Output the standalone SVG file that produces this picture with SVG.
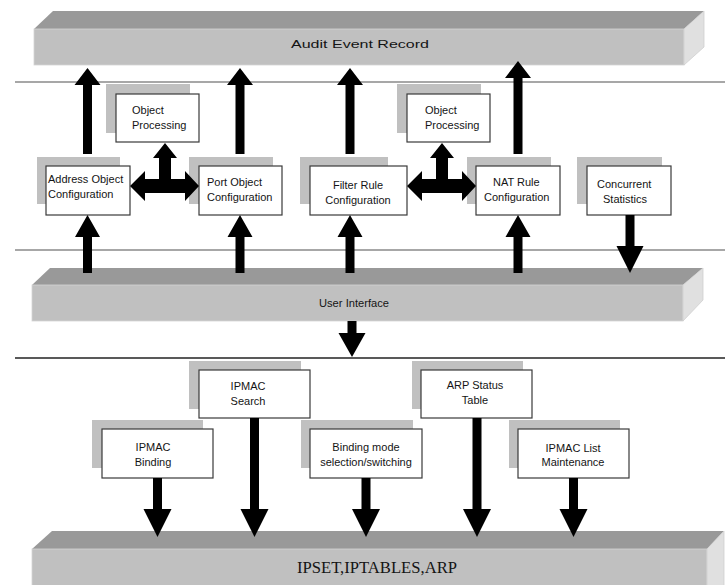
<svg xmlns="http://www.w3.org/2000/svg" width="725" height="585" viewBox="0 0 725 585">
<defs>
<style>
.top{fill:#999999}
.front{fill:#c0c0c0;stroke:#d4d4d4;stroke-width:0.8}
.side{fill:#e0e0e0;stroke:#cfcfcf;stroke-width:0.8}
.shadow{fill:#c0c0c0}
.box{fill:#ffffff;stroke:#3a3a3a;stroke-width:1.2}
.t{font-family:"Liberation Sans",Arial,sans-serif;font-size:11px;fill:#141414}
.tc{text-anchor:middle}
.arr{fill:#000000}
.sep{stroke:#8a8a8a;stroke-width:1.5}
.sepd{stroke:#222222;stroke-width:1.5}
</style>
</defs>
<rect width="725" height="585" fill="#ffffff"/>

<!-- separator lines -->
<g id="separators">
<line class="sep" x1="15" y1="82" x2="725" y2="82"/>
<line class="sep" x1="15" y1="250" x2="725" y2="250"/>
<line class="sepd" x1="15" y1="358" x2="725" y2="358"/>
</g>

<!-- Audit Event Record bar -->
<g id="audit">
<polygon class="top" points="34,29 53,11 704,11 684,29"/>
<rect class="front" x="34" y="29" width="650" height="36"/>
<polygon class="side" points="684,29 704,11 704,47 684,65"/>
<text class="t tc" x="360" y="48" font-size="16" textLength="138" lengthAdjust="spacingAndGlyphs">Audit Event Record</text>
</g>

<!-- User Interface bar -->
<g id="ui">
<polygon class="top" points="32,285 50,268 703,268 683,285"/>
<rect class="front" x="32" y="285" width="651" height="36"/>
<polygon class="side" points="683,285 703,268 703,300 683,321"/>
<text class="t tc" x="354" y="307" font-size="10.5" textLength="70" lengthAdjust="spacingAndGlyphs">User Interface</text>
</g>

<!-- IPSET bar -->
<g id="ipset">
<polygon class="top" points="32,549 52,531 724,531 707,549"/>
<rect class="front" x="32" y="549" width="675" height="40"/>
<polygon class="side" points="707,549 724,531 724,590 707,590"/>
<text x="377" y="573" text-anchor="middle" font-family="'Liberation Serif','Times New Roman',serif" font-size="16.5" fill="#141414" textLength="160" lengthAdjust="spacingAndGlyphs">IPSET,IPTABLES,ARP</text>
</g>

<!-- upper nodes -->
<g id="objproc1">
<rect class="shadow" x="106" y="84" width="84" height="49"/>
<rect class="box" x="116" y="94" width="83" height="48"/>
<text class="t" x="132" y="114" font-size="10.5">Object</text>
<text class="t" x="132" y="129" font-size="10.5">Processing</text>
</g>
<g id="addrobj">
<rect class="shadow" x="37" y="157" width="83" height="47"/>
<rect class="box" x="46" y="166" width="84" height="49"/>
<text class="t" x="48" y="183">Address Object</text>
<text class="t" x="48" y="198">Configuration</text>
</g>
<g id="portobj">
<rect class="shadow" x="189" y="157" width="84" height="47"/>
<rect class="box" x="199" y="166" width="83" height="49"/>
<text class="t" x="207" y="186">Port Object</text>
<text class="t" x="207" y="201">Configuration</text>
</g>
<g id="filter">
<rect class="shadow" x="300" y="157" width="88" height="47"/>
<rect class="box" x="310" y="166" width="97" height="49"/>
<text class="t tc" x="358" y="189">Filter Rule</text>
<text class="t tc" x="358" y="204">Configuration</text>
</g>
<g id="objproc2">
<rect class="shadow" x="397" y="84" width="84" height="49"/>
<rect class="box" x="407" y="94" width="83" height="48"/>
<text class="t" x="425" y="114" font-size="10.5">Object</text>
<text class="t" x="425" y="129" font-size="10.5">Processing</text>
</g>
<g id="nat">
<rect class="shadow" x="467" y="157" width="84" height="47"/>
<rect class="box" x="476" y="166" width="84" height="49"/>
<text class="t" x="493" y="186">NAT Rule</text>
<text class="t" x="484" y="201">Configuration</text>
</g>
<g id="concurrent">
<rect class="shadow" x="577" y="157" width="85" height="47"/>
<rect class="box" x="587" y="166" width="84" height="49"/>
<text class="t" x="597" y="188">Concurrent</text>
<text class="t" x="603" y="203">Statistics</text>
</g>

<!-- lower nodes -->
<g id="search">
<rect class="shadow" x="189" y="361" width="112" height="48"/>
<rect class="box" x="199" y="370" width="111" height="48"/>
<text class="t tc" x="248" y="390">IPMAC</text>
<text class="t tc" x="248" y="405">Search</text>
</g>
<g id="arp">
<rect class="shadow" x="412" y="361" width="111" height="48"/>
<rect class="box" x="421" y="370" width="111" height="48"/>
<text class="t tc" x="475" y="389">ARP Status</text>
<text class="t tc" x="475" y="404">Table</text>
</g>
<g id="binding">
<rect class="shadow" x="92" y="420" width="111" height="48"/>
<rect class="box" x="102" y="429" width="111" height="49"/>
<text class="t tc" x="153" y="451">IPMAC</text>
<text class="t tc" x="153" y="466">Binding</text>
</g>
<g id="bindmode">
<rect class="shadow" x="301" y="420" width="112" height="48"/>
<rect class="box" x="310" y="429" width="112" height="49"/>
<text class="t tc" x="366" y="451">Binding mode</text>
<text class="t tc" x="366" y="466">selection/switching</text>
</g>
<g id="ipmaclist">
<rect class="shadow" x="509" y="420" width="111" height="48"/>
<rect class="box" x="518" y="429" width="111" height="49"/>
<text class="t tc" x="573" y="452">IPMAC List</text>
<text class="t tc" x="573" y="466">Maintenance</text>
</g>

<!-- connectors -->
<g id="connectors" class="arr">
<!-- up to Audit -->
<polygon points="87.5,68 100.5,85 92,85 92,154 83,154 83,85 74.5,85"/>
<polygon points="240,68 253,85 244.5,85 244.5,154 235.5,154 235.5,85 227,85"/>
<polygon points="350,68 363,85 354.5,85 354.5,154 345.5,154 345.5,85 337,85"/>
<polygon points="518,61 531,78 522.5,78 522.5,154 513.5,154 513.5,78 505,78"/>
<!-- UI up into boxes -->
<polygon points="87.5,215 100,237 92,237 92,273 83,273 83,237 75,237"/>
<polygon points="240,215 252.5,237 244.5,237 244.5,273 235.5,273 235.5,237 227.5,237"/>
<polygon points="350,215 362.5,237 354.5,237 354.5,273 345.5,273 345.5,237 337.5,237"/>
<polygon points="518,215 530.5,237 522.5,237 522.5,273 513.5,273 513.5,237 505.5,237"/>
<!-- Concurrent down to UI -->
<polygon points="630,273 643.5,246 634.5,246 634.5,215 625.5,215 625.5,246 616.5,246"/>
<!-- UI down -->
<polygon points="352,357 365.5,333 356.5,333 356.5,321 347.5,321 347.5,333 338.5,333"/>
<!-- triple arrows -->
<polygon points="130,186 145,171 145,179 159,179 159,158 153,158 165,143 177,158 171,158 171,179 185,179 185,171 199,186 185,201 185,193 145,193 145,201"/>
<polygon points="407,186 422,171 422,179 436,179 436,158 430,158 442,143 454,158 448,158 448,179 462,179 462,171 476,186 462,201 462,193 422,193 422,201"/>
<!-- lower down arrows -->
<polygon points="157.5,537 171.5,509 162,509 162,478 153,478 153,509 143.5,509"/>
<polygon points="254.5,537 268.5,509 259,509 259,418 250,418 250,509 240.5,509"/>
<polygon points="366,537 380,509 370.5,509 370.5,478 361.5,478 361.5,509 352,509"/>
<polygon points="477,537 491,509 481.5,509 481.5,418 472.5,418 472.5,509 463,509"/>
<polygon points="573.5,537 587.5,509 578,509 578,478 569,478 569,509 559.5,509"/>
</g>
</svg>
